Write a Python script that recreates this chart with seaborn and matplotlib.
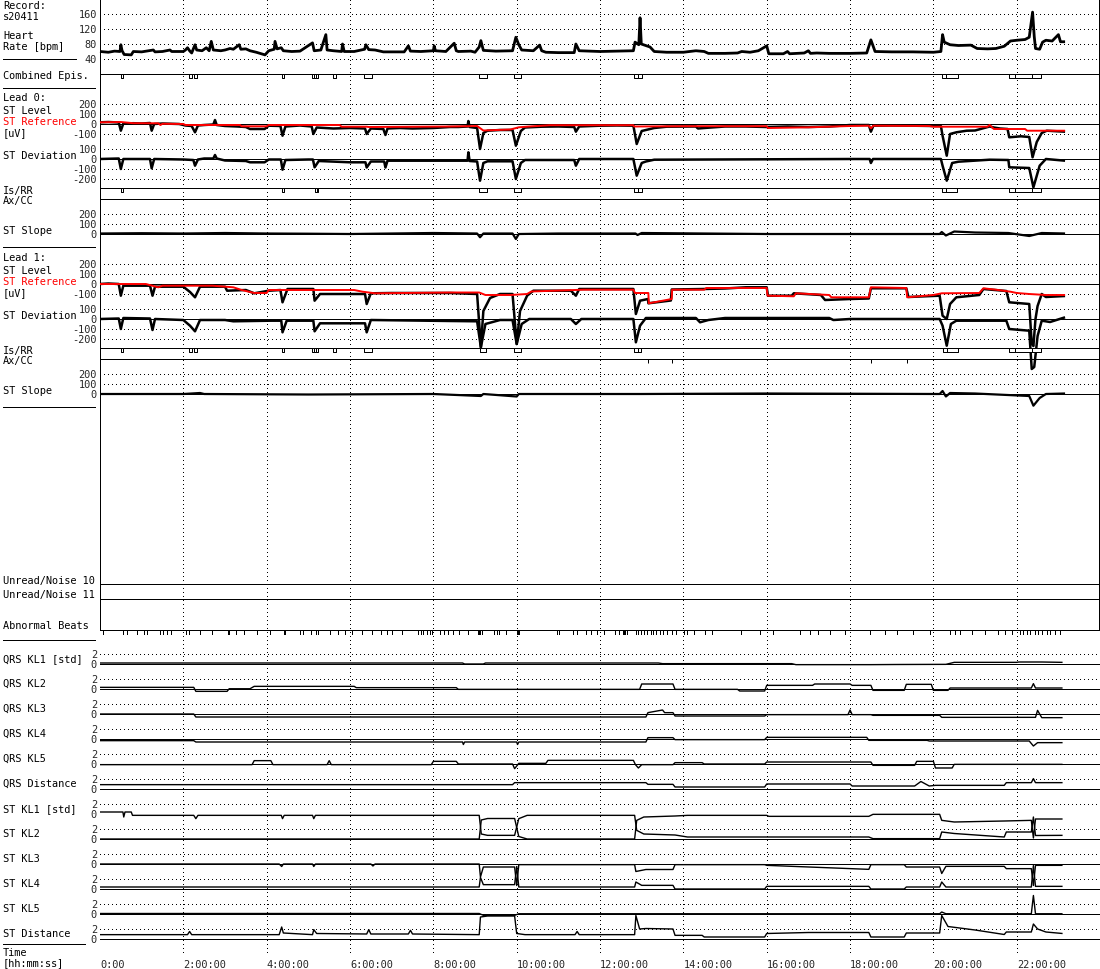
import matplotlib
matplotlib.use('Agg')
import matplotlib.pyplot as plt
import pandas as pd
import seaborn as sns

sns.set_style('white')
plt.rcParams['font.family'] = ['DejaVu Sans Mono']
plt.rcParams['lines.scale_dashes'] = False
plt.rcParams['lines.solid_capstyle'] = 'butt'

# ---------------------------------------------------------------- data
record = 's20411'

# heart rate [bpm]
hr_t = [0.0, 0.2, 0.35, 0.48, 0.5, 0.53, 0.58, 0.75, 0.8, 1.0, 1.28, 1.32, 1.5, 1.68, 1.72, 2.0, 2.05, 2.1,
        2.15, 2.2, 2.28, 2.32, 2.45, 2.55, 2.62, 2.67, 2.72, 2.9, 3.0, 3.12, 3.2, 3.34, 3.38, 3.5, 3.6, 3.75,
        3.96, 4.05, 4.18, 4.2, 4.25, 4.35, 4.4, 4.6, 4.8, 5.1, 5.14, 5.3, 5.42, 5.45, 5.6, 5.8, 5.82, 5.86,
        6.1, 6.35, 6.38, 6.45, 6.6, 6.8, 7.0, 7.3, 7.4, 7.45, 7.7, 8.0, 8.02, 8.05, 8.3, 8.5, 8.55, 8.6, 8.9,
        9.0, 9.1, 9.14, 9.2, 9.5, 9.9, 9.98, 10.05, 10.12, 10.4, 10.55, 10.6, 10.7, 11.0, 11.38, 11.42, 11.5,
        12.0, 12.4, 12.8, 12.84, 12.93, 12.96, 12.99, 13.2, 13.3, 13.6, 14.0, 14.3, 14.5, 14.6, 15.0, 15.3,
        15.4, 15.6, 15.8, 16.0, 16.05, 16.4, 16.5, 16.55, 16.9, 17.0, 17.05, 17.2, 17.5, 18.0, 18.4, 18.5,
        18.6, 19.0, 19.5, 20.0, 20.18, 20.22, 20.26, 20.4, 20.6, 20.9, 21.05, 21.3, 21.5, 21.7, 21.85, 22.0,
        22.2, 22.3, 22.38, 22.42, 22.45, 22.55, 22.62, 22.7, 22.85, 23.0, 23.05, 23.16]
hr_v = [60, 58, 61, 60, 78, 62, 52, 51, 60, 59, 64, 59, 60, 64, 60, 60, 64, 70,
        62, 56, 78, 64, 62, 70, 62, 87, 64, 62, 64, 68, 66, 78, 66, 67, 62, 58,
        51, 62, 66, 87, 67, 70, 62, 60, 61, 83, 62, 64, 105, 64, 62, 60, 80, 60,
        60, 66, 78, 65, 64, 59, 59, 59, 75, 61, 60, 62, 75, 62, 60, 82, 62, 60, 61,
        58, 72, 89, 63, 61, 62, 98, 78, 64, 62, 77, 62, 58, 57, 57, 80, 62,
        60, 61, 62, 85, 78, 150, 80, 72, 60, 58, 58, 62, 60, 55, 55, 56,
        60, 58, 62, 75, 54, 54, 60, 54, 56, 62, 55, 56, 55, 55, 56, 91,
        60, 59, 59, 58, 60, 105, 85, 78, 76, 77, 68, 67, 68, 74, 88, 90,
        92, 98, 165, 100, 68, 66, 85, 90, 88, 105, 86, 86]

# episodes [h]
comb_epis = [(0.50, 0.55), (2.14, 2.21), (2.26, 2.33), (4.37, 4.42), (5.09, 5.14), (5.14, 5.18), (5.18, 5.23),
             (5.59, 5.66), (6.34, 6.53), (9.10, 9.29), (9.94, 10.10), (12.82, 12.91), (12.91, 13.01),
             (20.21, 20.30), (20.30, 20.59), (21.81, 21.96), (21.96, 22.37), (22.37, 22.58)]
lead0_epis = [(0.50, 0.55), (4.37, 4.42), (5.16, 5.20), (5.20, 5.23), (9.10, 9.29), (9.94, 10.10),
              (12.82, 12.91), (12.91, 13.01), (20.21, 20.30), (20.30, 20.57), (21.81, 21.96),
              (21.96, 22.37), (22.37, 22.58)]
lead1_epis = [(0.50, 0.55), (2.14, 2.21), (2.26, 2.33), (4.37, 4.42), (5.09, 5.14), (5.14, 5.18), (5.18, 5.23),
              (5.59, 5.66), (6.34, 6.53), (9.12, 9.26), (9.94, 10.10), (12.82, 12.91), (12.91, 12.98),
              (20.24, 20.33), (20.33, 20.60), (21.81, 21.97), (21.97, 22.37), (22.37, 22.58)]
lead1_axis_shifts = [13.15, 13.73, 18.5, 19.37]

# lead 0 [uV]
l0_lvl_t = [0.0, 0.2, 0.45, 0.5, 0.56, 0.8, 1.0, 1.2, 1.24, 1.3, 1.5, 1.9, 2.05, 2.2, 2.28, 2.35, 2.5, 2.72,
            2.76, 2.8, 3.0, 3.3, 3.5, 3.6, 3.95, 4.05, 4.33, 4.38, 4.45, 4.8, 5.08, 5.12, 5.2, 5.6, 6.0, 6.36,
            6.4, 6.5, 6.8, 6.85, 6.9, 7.2, 7.5, 8.0, 8.4, 8.6, 8.82, 8.84, 8.87, 9.05, 9.12, 9.2, 9.3, 9.6,
            9.9, 9.98, 10.1, 10.2, 10.6, 11.0, 11.38, 11.42, 11.5, 12.0, 12.4, 12.8, 12.88, 13.0, 13.3, 13.6,
            14.3, 14.35, 14.5, 15.0, 15.5, 16.0, 16.5, 17.0, 17.5, 18.0, 18.45, 18.5, 18.56, 19.0, 19.5,
            20.0, 20.18, 20.22, 20.32, 20.4, 20.55, 20.8, 21.0, 21.35, 21.45, 21.6, 21.78, 21.82, 22.1,
            22.3, 22.38, 22.48, 22.6, 22.72, 23.16]
l0_lvl_v = [17, 20, 15, -67, 5, 8, 5, 10, -67, 0, 5, 0, -15, -20, -83, -15, -10, -5,
            40, -10, -20, -25, -30, -50, -50, -17, -20, -117, -25, -15, -25, -100, -35, -45, -40, -45,
            -100, -45, -50, -110, -45, -40, -45, -40, -30, -30, -25, 30, -30, -40, -250, -90, -67, -60,
            -60, -217, -70, -35, -27, -25, -30, -77, -25, -17, -15, -17, -200, -70, -40, -27,
            -25, -45, -40, -25, -25, -30, -25, -30, -25, -10, -10, -77, -17, -15, -17,
            -20, -20, -117, -317, -100, -83, -67, -65, -25, -35, -45, -50, -133, -123,
            -130, -333, -180, -90, -67, -77]
l0_ref_t = [0.0, 0.5, 0.8, 1.4, 1.45, 1.5, 2.0, 2.05, 3.36, 3.4, 4.0, 4.05, 5.75, 5.8, 6.4, 6.45, 8.4, 9.05,
            9.2, 9.85, 10.05, 10.3, 10.8, 12.8, 12.82, 14.0, 16.0, 16.03, 17.0, 18.0, 18.45, 18.5, 18.56,
            19.9, 20.0, 21.3, 21.35, 21.45, 22.2, 22.25, 23.16]
l0_ref_v = [17, 20, 8, 7, -10, 2, 0, -10, -10, -23, -23, -10, -10, -27, -27, -30, -25, -20,
            -65, -55, -33, -25, -12, -12, -25, -22, -22, -40, -33, -20, -17, -43, -17,
            -20, -27, -27, -10, -50, -50, -67, -67]
l0_dev_t = [0.0, 0.45, 0.5, 0.56, 1.2, 1.24, 1.3, 2.0, 2.24, 2.28, 2.35, 2.5, 2.72, 2.76, 2.8, 3.0, 3.5,
            3.6, 3.95, 4.05, 4.34, 4.38, 4.45, 5.0, 5.11, 5.15, 5.25, 6.0, 6.37, 6.4, 6.5, 6.82, 6.85, 6.9,
            8.4, 8.82, 8.84, 8.87, 9.05, 9.12, 9.2, 9.3, 9.9, 9.98, 10.1, 10.2, 11.38, 11.42, 11.5, 12.8,
            12.88, 13.0, 13.1, 13.3, 18.0, 18.47, 18.5, 18.55, 20.18, 20.22, 20.32, 20.45, 20.6, 21.35,
            21.8, 21.82, 22.3, 22.4, 22.55, 22.7, 23.16]
l0_dev_v = [0, 5, -100, 0, 0, -93, 0, -5, -10, -67, -5, 5, 5, 40, 5, -15, -20,
            -33, -33, -5, -5, -107, -10, -5, -5, -83, -20, -33, -33, -85, -25, -25, -85, -17,
            -17, -17, 67, -20, -25, -217, -40, -23, -23, -200, -40, -10, -10, -67, 0, 0,
            -167, -40, -25, -7, 0, 0, -40, 0, 0, -67, -217, -40, -27, -7,
            -10, -83, -90, -283, -67, 0, -17]
l0_slp_t = [0.0, 1.0, 2.0, 3.0, 4.0, 5.0, 6.0, 7.0, 8.0, 9.05, 9.12, 9.2, 9.9, 9.98, 10.05, 11.0, 12.85,
            12.9, 13.0, 16.0, 20.15, 20.2, 20.3, 20.5, 21.0, 21.8, 22.3, 22.6, 23.16]
l0_slp_v = [5, 8, 5, 10, 5, 3, 0, 5, 10, 5, -33, 5, 5, -50, 0, 5, 5,
            -10, 10, 0, 0, 20, -15, 25, 15, 10, -20, 10, 5]

# lead 1 [uV]
l1_lvl_t = [0.0, 0.2, 0.45, 0.5, 0.56, 1.2, 1.26, 1.32, 2.0, 2.16, 2.28, 2.4, 3.0, 3.05, 3.5, 3.7, 4.05, 4.33,
            4.38, 4.5, 5.0, 5.12, 5.15, 5.28, 6.1, 6.36, 6.4, 6.5, 7.0, 8.4, 9.05, 9.14, 9.2, 9.36, 9.6, 9.9,
            10.0, 10.08, 10.25, 10.4, 11.3, 11.42, 11.5, 12.8, 12.86, 12.96, 13.15, 13.16, 13.7, 13.72, 14.5,
            15.0, 15.5, 16.0, 16.03, 16.6, 16.65, 17.3, 17.4, 18.0, 18.45, 18.5, 19.35, 19.4, 20.15, 20.22,
            20.32, 20.4, 20.55, 21.1, 21.2, 21.75, 21.82, 22.3, 22.36, 22.4, 22.45, 22.5, 22.6, 22.7, 23.16]
l1_lvl_v = [0, 5, 0, -117, -17, -17, -117, -27, -27, -80, -133, -27, -27, -67, -60, -93, -67, -60,
            -183, -50, -50, -50, -167, -100, -100, -100, -200, -93, -90, -90, -100, -633, -270, -140, -100, -100,
            -600, -270, -117, -67, -67, -117, -50, -50, -300, -167, -150, -193, -165, -55, -50,
            -45, -33, -33, -117, -117, -93, -110, -160, -150, -145, -43, -43, -130, -117, -317,
            -350, -200, -133, -110, -50, -70, -183, -200, -600, -620, -350, -220, -100, -130, -120]
l1_ref_t = [0.0, 1.1, 1.4, 1.5, 2.7, 3.2, 3.4, 3.7, 4.0, 4.05, 6.1, 6.3, 6.6, 8.4, 9.1, 9.25, 9.85, 10.25,
            10.35, 11.6, 12.8, 12.84, 13.16, 13.17, 13.72, 13.73, 14.5, 14.55, 16.0, 16.02, 16.65, 16.7,
            17.5, 17.55, 18.45, 18.5, 19.35, 19.37, 20.0, 20.2, 21.1, 21.2, 21.5, 21.85, 22.0, 22.3, 22.7,
            23.16]
l1_ref_v = [0, 0, -33, -17, -17, -33, -60, -90, -90, -60, -60, -77, -93, -85, -85, -110, -110, -100,
            -75, -57, -57, -90, -90, -193, -150, -57, -57, -40, -40, -117, -123, -93,
            -110, -133, -133, -33, -40, -133, -110, -93, -90, -43, -57, -77, -90, -100, -110,
            -110]
l1_dev_t = [0.0, 0.45, 0.5, 0.56, 1.2, 1.26, 1.32, 2.0, 2.16, 2.28, 2.4, 3.0, 3.2, 4.1, 4.35, 4.38, 4.48, 5.0,
            5.12, 5.15, 5.28, 6.1, 6.36, 6.4, 6.5, 8.4, 9.05, 9.14, 9.25, 9.6, 9.9, 10.0, 10.12, 10.3, 11.3,
            11.42, 11.55, 12.8, 12.86, 12.96, 13.1, 14.3, 14.4, 14.6, 15.0, 17.5, 17.6, 18.0, 20.15, 20.22,
            20.32, 20.42, 20.55, 21.75, 21.82, 22.3, 22.36, 22.42, 22.5, 22.6, 22.8, 23.16]
l1_dev_v = [0, 5, -100, 10, 5, -110, 0, -10, -67, -123, -10, -10, -23, -17, -17, -133, -17, -17,
            -17, -123, -43, -43, -43, -133, -10, -20, -23, -283, -50, -10, -10, -250, -50, 0, 0,
            -50, 0, 0, -233, -67, 10, 10, -33, -10, 10, 10, -10, 0, 0, -67,
            -267, -50, -17, -17, -100, -117, -500, -480, -170, -17, -30, 17]
l1_slp_t = [0.0, 2.0, 2.4, 2.5, 5.0, 8.0, 9.14, 9.2, 10.0, 10.05, 13.0, 16.0, 20.15, 20.22, 20.3, 20.4,
            21.0, 22.3, 22.4, 22.55, 22.7, 23.16]
l1_slp_v = [0, 0, 10, 0, -5, 0, -20, 0, -25, 0, 0, 5, 0, 30, -25, 10,
            5, -20, -117, -40, 0, 5]

# abnormal beats [h]
abn_beats = [0.07, 0.55, 0.65, 0.89, 1.06, 1.13, 1.44, 1.51, 1.61, 1.70, 2.06, 2.13, 2.40, 2.69, 3.07, 3.10,
             3.26, 3.46, 3.77, 4.08, 4.42, 4.44, 4.80, 4.87, 5.06, 5.18, 5.23, 5.52, 5.71, 5.88, 6.05, 6.29,
             6.53, 6.74, 6.89, 7.01, 7.24, 7.64, 7.70, 7.76, 7.85, 7.92, 7.96, 8.16, 8.26, 8.36, 8.46, 8.62,
             8.84, 9.06, 9.10, 9.13, 9.16, 9.46, 9.52, 9.58, 9.74, 10.00, 10.02, 10.05, 10.96, 11.02, 11.34,
             11.45, 11.66, 11.78, 11.93, 12.10, 12.36, 12.46, 12.54, 12.58, 12.61, 12.65, 12.86, 12.92, 12.98,
             13.05, 13.13, 13.22, 13.28, 13.34, 13.44, 13.52, 13.60, 13.72, 13.82, 14.02, 14.09, 14.25, 14.52,
             14.69, 15.38, 15.84, 16.15, 16.80, 17.04, 17.23, 17.52, 17.88, 18.48, 18.84, 19.13, 19.51, 19.92,
             20.40, 20.52, 20.64, 20.93, 21.24, 21.55, 21.72, 21.89, 22.08, 22.15, 22.25, 22.32, 22.44, 22.51,
             22.61, 22.73, 22.80, 22.92, 23.04]

# KL coefficients [std]
qrs_kl1_t = [0.0, 8.7, 8.75, 9.2, 9.25, 13.4, 13.5, 16.6, 16.7, 18.5, 19.1, 20.3, 20.5, 22.0, 22.05, 22.6, 23.1]
qrs_kl1_v = [0.2, 0.2, 0.0, 0.0, 0.2, 0.2, 0.07, 0.07, -0.13, -0.13, -0.1, -0.07, 0.33, 0.33, 0.4, 0.4, 0.33]
qrs_kl2_t = [0.0, 2.25, 2.3, 3.05, 3.1, 3.6, 3.7, 6.1, 6.15, 8.55, 8.6, 12.95, 13.0, 13.75, 13.8, 15.3, 15.35,
             15.95, 16.0, 17.1, 17.15, 18.0, 18.05, 18.5, 18.55, 19.3, 19.35, 19.95, 20.0, 20.35, 20.4, 22.35,
             22.4, 22.45, 23.1]
qrs_kl2_v = [0.33, 0.33, -0.47, -0.47, 0.05, 0.05, 0.53, 0.53, 0.27, 0.27, -0.07, -0.07, 1.0, 1.0, -0.07, -0.07,
             -0.4, -0.4, 0.73, 0.73, 1.0, 1.0, 0.73, 0.73, -0.27, -0.27, 0.93, 0.93, -0.27, -0.27, 0.2, 0.2,
             1.07, 0.2, 0.2]
qrs_kl3_t = [0.0, 2.25, 2.3, 13.1, 13.15, 13.5, 13.55, 13.75, 13.8, 15.95, 16.0, 17.95, 18.0, 18.05, 18.5,
             18.55, 20.15, 20.2, 22.45, 22.5, 22.6, 23.1]
qrs_kl3_v = [0.0, 0.0, -0.6, -0.6, 0.27, 0.8, 0.27, 0.27, -0.4, -0.4, -0.13, -0.13, 0.8, -0.13, -0.13,
             -0.27, -0.27, -0.67, -0.67, 0.73, -0.73, -0.73]
qrs_kl4_t = [0.0, 2.25, 2.3, 8.7, 8.72, 8.75, 10.0, 10.02, 10.05, 13.1, 13.15, 13.75, 13.8, 15.95, 16.0, 18.4,
             18.45, 19.85, 19.9, 22.3, 22.4, 22.5, 23.1]
qrs_kl4_v = [-0.33, -0.33, -0.6, -0.6, -1.1, -0.6, -0.6, -1.1, -0.6, -0.6, 0.27, 0.27, -0.13, -0.13, 0.33, 0.33,
             -0.27, -0.27, -0.4, -0.4, -1.4, -0.73, -0.73]
qrs_kl5_t = [0.0, 3.65, 3.7, 4.1, 4.15, 5.45, 5.5, 5.55, 7.95, 8.0, 8.55, 8.6, 9.9, 9.95, 10.05, 10.7, 10.75,
             12.8, 12.85, 12.92, 13.0, 13.75, 13.8, 14.45, 14.5, 15.95, 16.0, 18.5, 18.55, 19.55, 19.6, 20.0,
             20.05, 20.45, 20.5, 23.1]
qrs_kl5_v = [-0.13, -0.13, 0.67, 0.67, -0.13, -0.13, 0.67, -0.13, -0.13, 0.53, 0.53, 0.0, 0.0, -0.93, 0.13, 0.13,
             0.73, 0.73, -0.13, -0.8, -0.13, -0.13, 0.27, 0.27, 0.0, 0.0, 0.4, 0.4, -0.27, -0.27, 0.53, 0.53,
             -0.8, -0.8, -0.07, -0.07]
qrs_dist_t = [0.0, 9.9, 9.95, 13.1, 13.15, 13.75, 13.8, 15.95, 16.0, 18.0, 18.05, 19.55, 19.7, 19.9, 20.05,
              21.7, 21.75, 22.35, 22.4, 22.45, 23.1]
qrs_dist_v = [0.87, 0.87, 1.27, 1.27, 0.93, 0.93, 0.4, 0.4, 1.0, 1.0, 0.6, 0.6, 1.5, 0.6, 0.73,
              0.73, 1.27, 1.27, 2.07, 1.27, 1.27]
st_kl1_t = [0.0, 0.55, 0.57, 0.6, 0.75, 0.78, 2.25, 2.3, 2.35, 4.35, 4.38, 4.42, 5.1, 5.13, 5.17, 9.1, 9.15,
            9.3, 9.95, 10.05, 10.25, 12.83, 12.88, 13.05, 13.8, 14.1, 18.45, 18.55, 20.15, 20.2, 20.5, 21.7,
            21.75, 22.35, 22.4, 22.45, 23.1]
st_kl1_v = [0.4, 0.4, -0.6, 0.4, 0.4, -0.27, -0.27, -0.93, -0.27, -0.27, -0.93, -0.27, -0.27, -0.93, -0.27,
            -0.27, -4.0, -4.27, -4.27, -0.93, -0.27, -0.27, -3.27, -4.0, -4.2, -4.6, -4.6, -4.93, -4.93, -3.6,
            -3.9, -4.6, -3.6, -3.6, -0.6, -4.3, -4.27]
st_kl2_t = [0.0, 9.1, 9.15, 9.3, 9.95, 10.05, 10.25, 12.83, 12.88, 13.05, 13.8, 14.1, 16.0, 16.05, 18.45,
            18.55, 20.15, 20.2, 20.5, 21.7, 22.35, 22.4, 22.45, 23.1]
st_kl2_v = [0.0, 0.0, 3.8, 4.1, 4.1, 0.5, 0.0, 0.0, 3.73, 4.4, 4.6, 4.73, 4.73, 4.53, 4.53,
            4.93, 4.93, 3.73, 3.4, 3.6, 3.73, 0.2, 4.0, 4.0]
st_kl3_t = [0.0, 4.3, 4.36, 4.4, 5.1, 5.13, 5.17, 6.5, 6.55, 6.6, 9.1, 9.13, 9.2, 9.95, 10.0, 10.05, 12.83,
            12.86, 13.1, 13.75, 13.8, 15.95, 16.0, 18.45, 18.5, 19.3, 19.35, 20.15, 20.2, 20.3, 21.7, 21.75,
            22.35, 22.4, 22.45, 23.1]
st_kl3_v = [0.0, 0.0, -0.5, 0.0, 0.0, -0.5, 0.0, 0.0, -0.4, 0.0, 0.0, -2.6, -0.6, -0.6, -4.3, -0.13, -0.13,
            -1.5, -1.1, -1.1, -0.13, -0.13, -0.27, -1.07, -0.13, -0.13, -0.6, -0.6, -1.9, -0.47, -0.47, -0.93,
            -0.93, -4.3, -0.27, -0.27]
st_kl4_t = [0.0, 9.1, 9.13, 9.2, 9.95, 10.0, 10.05, 12.83, 12.86, 13.0, 13.75, 13.8, 15.95, 16.0, 18.45, 18.5,
            19.3, 19.35, 20.15, 20.2, 20.3, 22.35, 22.4, 22.45, 23.1]
st_kl4_v = [0.4, 0.4, 2.3, 0.87, 0.87, 4.5, 0.4, 0.4, 1.4, 0.73, 0.73, 0.0, 0.0, 0.53, 0.53, 0.0,
            0.0, 0.4, 0.4, 1.4, 0.4, 0.4, 4.7, 0.53, 0.53]
st_kl5_t = [0.0, 9.1, 9.2, 9.95, 10.05, 20.15, 20.2, 20.3, 22.35, 22.4, 22.45, 23.1]
st_kl5_v = [0.1, 0.1, -0.27, -0.27, 0.05, 0.05, 0.4, 0.05, 0.05, 3.7, 0.05, 0.05]
st_dist_t = [0.0, 2.1, 2.15, 2.2, 4.3, 4.36, 4.4, 5.1, 5.13, 5.2, 6.4, 6.45, 6.5, 7.4, 7.45, 7.5, 9.1, 9.13,
             9.3, 9.95, 10.0, 10.2, 11.4, 11.45, 11.5, 12.83, 12.86, 12.95, 13.1, 13.75, 13.8, 14.45, 14.5,
             15.95, 16.0, 17.0, 18.45, 18.5, 19.3, 19.35, 20.15, 20.2, 20.35, 21.0, 21.7, 21.75, 22.35, 22.4,
             22.5, 22.7, 23.1]
st_dist_v = [0.87, 0.87, 1.5, 0.87, 0.87, 2.4, 1.2, 0.87, 1.87, 1.1, 1.0, 1.87, 1.0, 1.0, 1.73, 1.0, 0.87, 4.4,
             4.6, 4.6, 1.1, 0.87, 0.87, 1.5, 0.87, 0.87, 4.7, 2.0, 2.1, 2.0, 0.73, 0.73, 0.4,
             0.4, 1.1, 1.3, 1.3, 0.4, 0.4, 1.2, 1.2, 4.7, 2.5, 1.8, 0.9, 1.4, 1.4, 3.0,
             2.0, 1.4, 1.1]

kl_names = ['QRS KL1 [std]', 'QRS KL2', 'QRS KL3', 'QRS KL4', 'QRS KL5', 'QRS Distance',
            'ST KL1 [std]', 'ST KL2', 'ST KL3', 'ST KL4', 'ST KL5', 'ST Distance']
kl_series = [(qrs_kl1_t, qrs_kl1_v), (qrs_kl2_t, qrs_kl2_v), (qrs_kl3_t, qrs_kl3_v), (qrs_kl4_t, qrs_kl4_v),
             (qrs_kl5_t, qrs_kl5_v), (qrs_dist_t, qrs_dist_v), (st_kl1_t, st_kl1_v), (st_kl2_t, st_kl2_v),
             (st_kl3_t, st_kl3_v), (st_kl4_t, st_kl4_v), (st_kl5_t, st_kl5_v), (st_dist_t, st_dist_v)]

time_ticks = list(range(0, 24, 2))
time_labels = ['0:00'] + [f'{h}:00:00' for h in time_ticks[1:]]

# ---------------------------------------------------------------- layout
W, H = 1100, 970
X0, X1 = 100, 1099
PX_PER_H = 41.67
T_MAX = (X1 - X0) / PX_PER_H
PX = 0.72                      # one pixel in points
FS = 7.4
DOT = (0, (PX, 3.2 * PX))
RED = '#ff0000'

fig = plt.figure(figsize=(W / 100, H / 100), dpi=100)

bg = fig.add_axes([0, 0, 1, 1])
bg.set_xlim(0, W)
bg.set_ylim(H, 0)
bg.axis('off')


def add_ax(top, bottom, zero=None, px_per_unit=1.0):
    ax = fig.add_axes([X0 / W, 1 - bottom / H, (X1 - X0) / W, (bottom - top) / H])
    ax.set_xlim(0, T_MAX)
    if zero is None:
        ax.set_ylim(0, 1)
    else:
        ax.set_ylim((zero - bottom) / px_per_unit, (zero - top) / px_per_unit)
    ax.axis('off')
    return ax


def solid(ax, y):
    ax.axhline(y, color='black', lw=PX, clip_on=False, antialiased=False)


def dotted(ax, ys):
    for y in ys:
        ax.axhline(y, color='black', lw=PX, linestyle=DOT, clip_on=False, antialiased=False)


def ticks(ax, ys, labels=None):
    labels = labels or [str(y) for y in ys]
    for y, s in zip(ys, labels):
        ax.annotate(s, xy=(0, y), xycoords=('axes fraction', 'data'), xytext=(-2.2, 0),
                    textcoords='offset points', ha='right', va='center', fontsize=FS)


def trace(ax, t, v, color='black', lw=1.8):
    df = pd.DataFrame({'t': t, 'v': v})
    sns.lineplot(data=df, x='t', y='v', ax=ax, color=color, linewidth=lw,
                 estimator=None, sort=False, clip_on=False, legend=False)


def episodes(ax, spans):
    ax.broken_barh([(a, b - a) for a, b in spans], (0, 1), facecolors='white',
                   edgecolors='black', linewidth=PX, clip_on=False)


def label(y, s, color='black', x=3):
    fig.text(x / W, 1 - y / H, s, fontsize=FS, color=color, ha='left', va='center')


# vertical time grid
grid = add_ax(0, 957)
for h in time_ticks[1:]:
    grid.axvline(h, color='black', lw=PX, linestyle=DOT, antialiased=False)
for h, s in zip(time_ticks, time_labels):
    grid.annotate(s, xy=(h, 0), xycoords=('data', 'axes fraction'), xytext=(0, -6),
                  textcoords='offset points', ha='left', va='center', fontsize=FS)

# frame
bg.vlines([X0, X1], 0, 631, color='black', lw=PX, antialiased=False)
bg.hlines([585, 600, 631], X0, X1, color='black', lw=PX, antialiased=False)
for y, x1 in [(60, 76), (89, 95), (248, 95), (408, 95), (641, 95), (945, 85)]:
    bg.hlines(y, 3, x1, color='black', lw=PX, antialiased=False)

# heart rate
hr_ax = add_ax(0, 75, zero=75, px_per_unit=15 / 40)
dotted(hr_ax, [40, 80, 120, 160])
solid(hr_ax, 0)
solid(hr_ax, 200)
ticks(hr_ax, [160, 120, 80, 40])
trace(hr_ax, hr_t, hr_v, lw=2.0)

ep_ax = add_ax(75, 79)
episodes(ep_ax, comb_epis)

label(6, 'Record:')
label(17, record)
label(36, 'Heart')
label(47, 'Rate [bpm]')
label(76, 'Combined Epis.')

# leads
leads = [(0, 'Lead 0:', l0_lvl_t, l0_lvl_v, l0_ref_t, l0_ref_v, l0_dev_t, l0_dev_v, l0_slp_t, l0_slp_v,
          lead0_epis, []),
         (160, 'Lead 1:', l1_lvl_t, l1_lvl_v, l1_ref_t, l1_ref_v, l1_dev_t, l1_dev_v, l1_slp_t, l1_slp_v,
          lead1_epis, lead1_axis_shifts)]
for o, name, lt, lv, rt, rv, dt, dv, st, sv, epis, shifts in leads:
    lvl = add_ax(95 + o, 142 + o, zero=125 + o, px_per_unit=0.1)
    dotted(lvl, [200, 100, -100])
    solid(lvl, 0)
    ticks(lvl, [200, 100, 0, -100])
    trace(lvl, lt, lv)
    trace(lvl, rt, rv, color=RED, lw=1.4)

    dev = add_ax(142 + o, 189 + o, zero=160 + o, px_per_unit=0.1)
    dotted(dev, [100, -100, -200])
    solid(dev, 0)
    solid(dev, (160 - 189) * 10)
    ticks(dev, [100, 0, -100, -200])
    trace(dev, dt, dv)

    isrr = add_ax(189 + o, 193 + o)
    episodes(isrr, epis)

    slp = add_ax(200 + o, 245 + o, zero=235 + o, px_per_unit=0.1)
    dotted(slp, [200, 100])
    solid(slp, 0)
    solid(slp, 350)
    ticks(slp, [200, 100, 0])
    slp.vlines(shifts, 350, 310, color='black', lw=PX)
    trace(slp, st, sv, lw=1.6)

    label(98 + o, name)
    label(111 + o, 'ST Level')
    label(122 + o, 'ST Reference', color=RED)
    label(133 + o, '[uV]')
    label(156 + o, 'ST Deviation')
    label(191 + o, 'Is/RR')
    label(201 + o, 'Ax/CC')
    label(231 + o, 'ST Slope')

label(581, 'Unread/Noise 10')
label(595, 'Unread/Noise 11')
label(626, 'Abnormal Beats')

ab_ax = add_ax(631, 636)
ab_ax.vlines(abn_beats, 0, 1, color='black', lw=PX)

# KL panels
for k, (name, (t, v)) in enumerate(zip(kl_names, kl_series)):
    zero = 665 + 25 * k
    ax = add_ax(zero - 20, zero + 5, zero=zero, px_per_unit=5)
    dotted(ax, [2])
    if name != 'ST KL1 [std]':
        solid(ax, 0)
    ticks(ax, [2, 0])
    trace(ax, t, v, lw=1.0)
    label(zero - 6, name)

label(953, 'Time')
label(963, '[hh:mm:ss]')

fig.savefig('out.png', dpi=100)
